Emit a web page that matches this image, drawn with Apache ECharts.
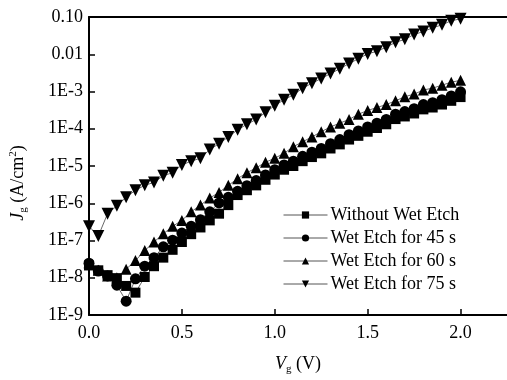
<!DOCTYPE html>
<html>
<head>
<meta charset="utf-8">
<script src="https://cdn.jsdelivr.net/npm/echarts@6/dist/echarts.min.js"></script>
<style>
  html, body { margin: 0; padding: 0; background: #fff; }
  #chart { width: 507px; height: 380px; }
</style>
</head>
<body>
<div id="chart"></div>
<script>
// gate voltage, 0 to 2 V in 0.05 V steps
const vg = [
  0, 0.05, 0.1, 0.15, 0.2, 0.25, 0.3, 0.35, 0.4, 0.45,
  0.5, 0.55, 0.6, 0.65, 0.7, 0.75, 0.8, 0.85, 0.9, 0.95,
  1.0, 1.05, 1.1, 1.15, 1.2, 1.25, 1.3, 1.35, 1.4, 1.45,
  1.5, 1.55, 1.6, 1.65, 1.7, 1.75, 1.8, 1.85, 1.9, 1.95, 2.0
];

// x tick positions
const xTicks = [0, 0.5, 1.0, 1.5, 2.0];

// log10(Jg), one per vg point
const logJ_noEtch = [
  -7.67, -7.80, -7.93, -8.01, -8.22, -8.40, -7.98, -7.69, -7.46, -7.25,
  -7.04, -6.83, -6.65, -6.46, -6.28, -6.05, -5.78, -5.65, -5.52, -5.37,
  -5.23, -5.10, -5.00, -4.87, -4.76, -4.66, -4.53, -4.42, -4.29, -4.19,
  -4.08, -3.98, -3.88, -3.74, -3.67, -3.59, -3.48, -3.43, -3.35, -3.25, -3.15
];
const logJ_etch45 = [
  -7.61, -7.82, -7.95, -8.20, -8.63, -8.03, -7.69, -7.46, -7.17, -6.99,
  -6.80, -6.62, -6.44, -6.23, -5.99, -5.84, -5.68, -5.53, -5.39, -5.24,
  -5.10, -4.97, -4.87, -4.74, -4.63, -4.53, -4.40, -4.29, -4.16, -4.06,
  -3.95, -3.85, -3.75, -3.61, -3.54, -3.46, -3.35, -3.30, -3.22, -3.12, -3.01
];
const logJ_etch60 = [
  -7.60, -7.80, -7.95, -8.00, -7.77, -7.54, -7.27, -7.04, -6.82, -6.62,
  -6.46, -6.23, -6.05, -5.86, -5.71, -5.52, -5.34, -5.18, -5.05, -4.90,
  -4.79, -4.66, -4.48, -4.35, -4.22, -4.08, -3.95, -3.85, -3.75, -3.61,
  -3.51, -3.43, -3.35, -3.25, -3.14, -3.07, -2.96, -2.91, -2.83, -2.75, -2.70
];
const logJ_etch75 = [
  -6.62, -6.88, -6.28, -6.07, -5.84, -5.65, -5.52, -5.44, -5.26, -5.18,
  -4.97, -4.87, -4.79, -4.56, -4.40, -4.22, -4.03, -3.88, -3.75, -3.56,
  -3.38, -3.22, -3.09, -2.91, -2.78, -2.65, -2.52, -2.39, -2.25, -2.12,
  -1.99, -1.92, -1.81, -1.68, -1.60, -1.47, -1.39, -1.29, -1.21, -1.10, -1.05
];

const seriesNames = [
  "Without Wet Etch",
  "Wet Etch for 45 s",
  "Wet Etch for 60 s",
  "Wet Etch for 75 s",
];

const FONT = "Liberation Serif";

const pairs = (logs) => vg.map((v, i) => [v, Math.pow(10, logs[i])]);

function makeSeries(name, logs, symbol, size, rotate) {
  return {
    name: name,
    type: "line",
    data: pairs(logs),
    symbol: symbol,
    symbolSize: size,
    symbolRotate: rotate || 0,
    showAllSymbol: true,
    itemStyle: { color: "#000" },
    lineStyle: { color: "#000", width: 0.6 },
    emphasis: { disabled: true },
    animation: false,
    clip: false,
  };
}

const chart = echarts.init(document.getElementById("chart"), null, { renderer: "canvas" });

const option = {
  backgroundColor: "#fff",
  textStyle: { fontFamily: FONT, color: "#000" },
  grid: { left: 88, right: 0, top: 17, bottom: 58, containLabel: false },
  legend: {
    data: seriesNames,
    orient: "vertical",
    left: 278,
    top: 201,
    itemWidth: 44,
    itemHeight: 9,
    itemGap: 5,
    textStyle: { fontFamily: FONT, fontSize: 18, color: "#000", padding: [0, 0, 0, -2] },
    lineStyle: { width: 1, color: "#555" },
  },
  xAxis: [
    {
      type: "value",
      min: 0,
      max: 2.25,
      interval: 0.5,
      name: "{i|V}{sub|g}{n| (V)}",
      nameLocation: "middle",
      nameGap: 39,
      nameTextStyle: {
        rich: {
          i: { fontFamily: FONT, fontSize: 18, fontStyle: "italic", color: "#000" },
          sub: { fontFamily: FONT, fontSize: 11, color: "#000", verticalAlign: "bottom", padding: [10, 0, 0, 0] },
          n: { fontFamily: FONT, fontSize: 18, color: "#000" },
        },
      },
      axisLine: { lineStyle: { color: "#000", width: 2 } },
      axisTick: { inside: true, length: 6, customValues: xTicks, lineStyle: { color: "#000", width: 1.5 } },
      axisLabel: {
        fontFamily: FONT,
        fontSize: 18,
        color: "#000",
        margin: 9,
        customValues: xTicks,
        formatter: (v) => v.toFixed(1),
      },
      splitLine: { show: false },
    },
    {
      type: "value",
      position: "top",
      min: 0,
      max: 2.25,
      axisLine: { show: true, lineStyle: { color: "#000", width: 2 } },
      axisTick: { show: false },
      axisLabel: { show: false },
      splitLine: { show: false },
    },
  ],
  yAxis: {
    type: "log",
    logBase: 10,
    min: 1e-9,
    max: 0.1,
    splitNumber: 8,
    name: "{i|J}{sub|g}{n| (A/cm}{sup|2}{n|)}",
    nameLocation: "middle",
    nameGap: 60,
    nameTextStyle: {
      padding: [0, 34, 0, 0],
      rich: {
        i: { fontFamily: FONT, fontSize: 18, fontStyle: "italic", color: "#000" },
        sub: { fontFamily: FONT, fontSize: 11, color: "#000", verticalAlign: "bottom", padding: [10, 0, 0, 0] },
        sup: { fontFamily: FONT, fontSize: 11, color: "#000", verticalAlign: "top", padding: [0, 0, 9, 0] },
        n: { fontFamily: FONT, fontSize: 18, color: "#000" },
      },
    },
    axisLine: { show: true, lineStyle: { color: "#000", width: 2 } },
    axisTick: { inside: true, length: 6, lineStyle: { color: "#000", width: 1.5 } },
    minorTick: { show: false },
    axisLabel: {
      fontFamily: FONT,
      fontSize: 18,
      color: "#000",
      margin: 6,
      formatter: (v) => {
        const e = Math.round(Math.log10(v));
        if (e === -1) return "0.10";
        if (e === -2) return "0.01";
        return "1E" + e;
      },
    },
    splitLine: { show: false },
  },
  series: [
    makeSeries(seriesNames[0], logJ_noEtch, "rect", 10),
    makeSeries(seriesNames[1], logJ_etch45, "circle", 11),
    makeSeries(seriesNames[2], logJ_etch60, "triangle", 11),
    makeSeries(seriesNames[3], logJ_etch75, "triangle", 12, 180),
  ],
};

chart.setOption(option);
</script>
</body>
</html>
